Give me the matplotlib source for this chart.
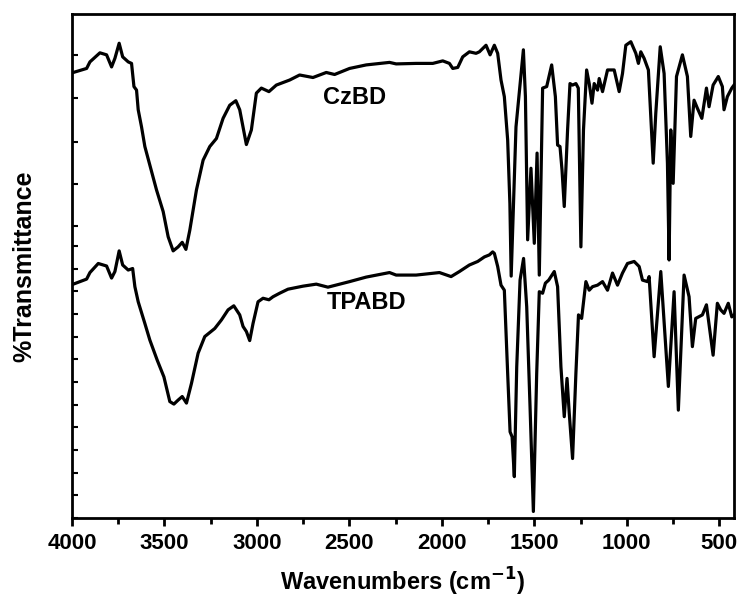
import numpy as np
import matplotlib
matplotlib.use("Agg")
import matplotlib.pyplot as plt
from matplotlib.ticker import MultipleLocator, FixedLocator, NullFormatter

plt.rcParams['font.family'] = ['Liberation Sans', 'DejaVu Sans']
plt.rcParams['font.weight'] = 'bold'

# CzBD spectrum (wavenumber cm-1, %T)
czbd_wn = [3993, 3921, 3903, 3849, 3813, 3786, 3768, 3745, 3726, 3696, 3678, 3665, 3651, 3642,
           3624, 3606, 3579, 3543, 3507, 3480, 3453, 3426, 3404, 3384, 3363, 3327, 3291, 3255,
           3219, 3183, 3147, 3114, 3093, 3057, 3030, 3003, 2976, 2935, 2895, 2823, 2769, 2697,
           2625, 2580, 2499, 2409, 2283, 2247, 2139, 2049, 1995, 1959, 1941, 1914, 1887, 1851,
           1815, 1797, 1761, 1739, 1716, 1698, 1680, 1662, 1644, 1632, 1625, 1599, 1559, 1548,
           1536, 1518, 1500, 1485, 1473, 1455, 1433, 1406, 1386, 1374, 1361, 1350, 1338, 1320,
           1307, 1293, 1275, 1262, 1248, 1234, 1217, 1203, 1188, 1176, 1158, 1149, 1131, 1104,
           1068, 1041, 1023, 1005, 978, 951, 937, 924, 906, 883, 857, 843, 819, 798, 780, 771,
           762, 749, 731, 699, 672, 654, 636, 618, 594, 569, 555, 533, 505, 483, 474, 456, 432, 420]
czbd_t = [88.4, 89.2, 90.5, 92.3, 91.9, 89.5, 91.2, 94.2, 91.5, 90.5, 90.2, 85.6, 84.9, 81.0,
          77.6, 73.7, 70.0, 65.1, 60.8, 55.8, 53.0, 53.8, 54.7, 53.3, 57.1, 65.1, 71.0, 73.7,
          75.3, 79.3, 81.9, 82.8, 81.0, 74.1, 77.0, 84.3, 85.3, 84.6, 85.9, 86.9, 87.9, 87.4,
          88.4, 88.0, 89.2, 89.9, 90.4, 90.1, 90.2, 90.2, 90.7, 90.2, 89.2, 89.4, 91.5, 92.5,
          92.2, 92.5, 93.8, 91.9, 93.8, 92.2, 86.9, 83.6, 75.0, 62.4, 48.0, 77.6, 92.9, 83.6,
          55.2, 69.4, 54.5, 72.4, 48.2, 85.3, 85.6, 89.9, 83.6, 74.0, 73.7, 69.0, 61.8, 77.0,
          86.2, 85.9, 86.2, 85.3, 53.8, 77.0, 88.9, 86.2, 82.3, 86.2, 84.9, 87.2, 84.6, 88.9,
          88.9, 84.6, 88.2, 93.8, 94.5, 92.2, 90.2, 92.5, 91.2, 88.9, 70.4, 80.3, 93.5, 88.2, 70.4, 51.2,
          77.0, 66.4, 87.6, 91.9, 87.6, 75.7, 82.9, 81.3, 79.3, 85.3, 81.6, 85.9, 87.6, 85.6, 81.0, 83.6, 85.3, 85.9]

# TPABD spectrum (wavenumber cm-1, %T)
tpabd_wn = [3993, 3921, 3903, 3858, 3813, 3786, 3768, 3745, 3726, 3696, 3672, 3660, 3642, 3606,
            3579, 3539, 3503, 3471, 3449, 3426, 3404, 3381, 3354, 3318, 3282, 3228, 3192, 3156,
            3125, 3093, 3075, 3057, 3039, 3021, 2994, 2967, 2935, 2913, 2877, 2832, 2751, 2679,
            2616, 2499, 2409, 2283, 2247, 2139, 2013, 1950, 1905, 1851, 1806, 1770, 1743, 1725,
            1716, 1698, 1680, 1662, 1644, 1631, 1620, 1608, 1595, 1577, 1558, 1541, 1523, 1505,
            1487, 1473, 1455, 1440, 1422, 1392, 1374, 1356, 1338, 1323, 1311, 1293, 1275, 1261,
            1244, 1221, 1203, 1185, 1158, 1131, 1104, 1077, 1050, 1023, 996, 960, 933, 915, 888,
            879, 852, 816, 775, 744, 721, 690, 663, 645, 627, 591, 569, 533, 510, 492, 474, 451, 432, 420]
tpabd_t = [46.4, 47.4, 48.7, 50.5, 50.0, 47.6, 48.9, 53.0, 50.2, 49.2, 49.5, 45.9, 42.9, 38.6,
           35.3, 31.3, 28.0, 23.1, 22.6, 23.4, 24.1, 22.8, 26.7, 32.7, 36.0, 37.6, 39.3, 41.3,
           42.1, 40.3, 38.0, 37.0, 35.2, 38.6, 42.9, 43.6, 43.3, 43.9, 44.6, 45.4, 46.0, 46.4,
           45.8, 46.9, 47.8, 48.7, 48.2, 48.2, 48.7, 47.9, 48.9, 50.2, 50.9, 51.8, 52.2, 52.8,
           52.5, 49.9, 46.2, 45.2, 28.7, 17.1, 16.1, 8.2, 30.0, 47.2, 51.5, 41.9, 22.1, 1.3,
           28.7, 44.9, 44.6, 46.6, 47.2, 48.9, 45.9, 30.0, 20.1, 27.7, 20.8, 11.8, 28.7, 40.3,
           39.6, 46.9, 45.2, 45.9, 46.2, 46.9, 45.2, 48.6, 46.2, 48.6, 50.5, 50.9, 49.9, 47.2, 46.9,
           47.9, 32.0, 48.9, 26.1, 44.9, 21.4, 48.2, 43.9, 34.0, 39.6, 40.3, 42.3, 32.3, 42.6, 41.3, 40.6, 42.6, 39.9, 40.3]

fig = plt.figure(figsize=(7.4, 6.04), dpi=100)
ax = fig.add_axes([0.0973, 0.1424, 0.8946, 0.8344])

ax.plot(czbd_wn, czbd_t, color='black', lw=2.3, solid_joinstyle='round')
ax.plot(tpabd_wn, tpabd_t, color='black', lw=2.3, solid_joinstyle='round')

ax.set_xlim(4000, 420)
ax.set_ylim(0, 100)

ax.text(2472, 83.5, 'CzBD', ha='center', va='center', fontsize=17, fontweight='bold')
ax.text(2407, 42.7, 'TPABD', ha='center', va='center', fontsize=17, fontweight='bold')

for s in ax.spines.values():
    s.set_linewidth(2.0)

ax.xaxis.set_major_locator(MultipleLocator(500))
ax.xaxis.set_minor_locator(MultipleLocator(250))
ax.tick_params(axis='x', which='major', direction='out', length=6, width=2,
               labelsize=16, top=False, pad=5)
ax.tick_params(axis='x', which='minor', direction='out', length=4, width=2, top=False)
for lab in ax.get_xticklabels():
    lab.set_fontweight('bold')

yt = list(np.arange(0, 55, 4.5)) + [57.9, 66.3, 74.7, 83.3, 91.9]
ax.yaxis.set_major_locator(FixedLocator(yt))
ax.yaxis.set_major_formatter(NullFormatter())
ax.tick_params(axis='y', which='major', direction='in', length=4, width=1.5, right=False)

ax.set_xlabel('Wavenumbers (cm$^{\\mathbf{-1}}$)', fontsize=17, fontweight='bold', labelpad=8)
ax.set_ylabel('%Transmittance', fontsize=18, fontweight='bold', labelpad=22)

fig.savefig('out.png', dpi=100)
